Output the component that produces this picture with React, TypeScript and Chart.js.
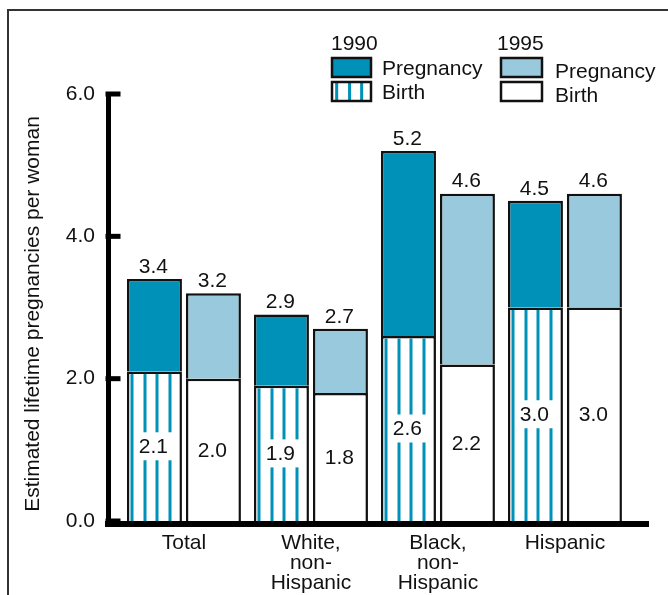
import React, { useEffect, useRef } from 'react';
import { Chart, registerables } from 'chart.js';

Chart.register(...registerables);

// ---- data ----
const categories: string[][] = [
  ['Total'],
  ['White,', 'non-', 'Hispanic'],
  ['Black,', 'non-', 'Hispanic'],
  ['Hispanic'],
];
const pregnancy1990 = [3.4, 2.9, 5.2, 4.5];
const birth1990 = [2.1, 1.9, 2.6, 3.0];
const pregnancy1995 = [3.2, 2.7, 4.6, 4.6];
const birth1995 = [2.0, 1.8, 2.2, 3.0];
const yTicks = [0, 2, 4, 6];
const legendYears = ['1990', '1995'];
const legendLabels = ['Pregnancy', 'Birth'];
const yTitle = 'Estimated lifetime pregnancies per woman';

// ---- styles ----
const TEAL = '#0091B8';
const LIGHT = '#98C9DC';
const INK = '#111111';
const FONT = '"Liberation Sans", Arial, Helvetica, sans-serif';
const FS = 21;
const X_MIN = -0.598;
const X_MAX = 3.654;
const Y_MIN = -0.042;
const STRIPES = [0.09, 0.33, 0.54, 0.78];

const remainder = (tot: number[], b: number[]) => tot.map((t, i) => Math.round((t - b[i]) * 10) / 10);
const pts = (vals: number[]) => vals.map((v, i) => ({ x: i, y: v }));

const overlay = {
  id: 'overlay',
  afterDatasetsDraw(chart: any) {
    const ctx = chart.ctx;
    ctx.save();
    // stripes on 1990 birth bars
    chart.getDatasetMeta(0).data.forEach((el: any) => {
      const p = el.getProps(['x', 'y', 'base', 'width'], true);
      const left = p.x - p.width / 2;
      ctx.fillStyle = TEAL;
      STRIPES.forEach((f) => {
        ctx.fillRect(Math.round(left + f * p.width) - 1.5, p.y + 2.5, 3, p.base - p.y - 2.5);
      });
    });
    ctx.font = `${FS}px ${FONT}`;
    ctx.textAlign = 'center';
    ctx.textBaseline = 'middle';
    // birth labels
    [0, 2].forEach((di) => {
      const vals = di === 0 ? birth1990 : birth1995;
      chart.getDatasetMeta(di).data.forEach((el: any, i: number) => {
        const p = el.getProps(['x', 'y', 'base'], true);
        const cy = (p.y + p.base) / 2;
        const txt = vals[i].toFixed(1);
        const w = ctx.measureText(txt).width + 6;
        ctx.fillStyle = '#fff';
        ctx.fillRect(p.x - w / 2, cy - 14, w, 28);
        ctx.fillStyle = INK;
        ctx.fillText(txt, p.x - 1, cy + 1);
      });
    });
    // totals
    [1, 3].forEach((di) => {
      const vals = di === 1 ? pregnancy1990 : pregnancy1995;
      chart.getDatasetMeta(di).data.forEach((el: any, i: number) => {
        const p = el.getProps(['x', 'y'], true);
        ctx.fillStyle = INK;
        ctx.fillText(vals[i].toFixed(1), p.x - 1, p.y - 12);
      });
    });
    ctx.restore();
  },
  afterDraw(chart: any) {
    const ctx = chart.ctx;
    const ys = chart.scales.y;
    ctx.save();
    // inward tick marks
    ctx.fillStyle = '#000';
    yTicks.forEach((v) => {
      const py = ys.getPixelForValue(v);
      ctx.fillRect(ys.right - 2.5, py - 2.5, 15, 5);
    });
    // y title
    ctx.save();
    ctx.translate(33, 314);
    ctx.rotate(-Math.PI / 2);
    ctx.font = `${FS}px ${FONT}`;
    ctx.fillStyle = INK;
    ctx.textAlign = 'center';
    ctx.textBaseline = 'middle';
    ctx.fillText(yTitle, 0, 0);
    ctx.restore();
    // legend
    ctx.font = `${FS}px ${FONT}`;
    ctx.textAlign = 'left';
    ctx.textBaseline = 'middle';
    const cols = [
      { x: 331, bx: 332, bw: 39, tx: 382, fill: TEAL, striped: true, ty: [69, 93], by: [58, 82] },
      { x: 497, bx: 501, bw: 41, tx: 555, fill: LIGHT, striped: false, ty: [72, 96], by: [58, 82] },
    ];
    cols.forEach((c, k) => {
      ctx.fillStyle = INK;
      ctx.fillText(legendYears[k], c.x, 44);
      // pregnancy box
      ctx.fillStyle = c.fill;
      ctx.fillRect(c.bx, c.by[0], c.bw, 19);
      ctx.lineWidth = 2.5;
      ctx.strokeStyle = INK;
      ctx.strokeRect(c.bx, c.by[0], c.bw, 19);
      // birth box
      ctx.fillStyle = '#fff';
      ctx.fillRect(c.bx, c.by[1], c.bw, 19);
      if (c.striped) {
        ctx.fillStyle = TEAL;
        [0.12, 0.45, 0.76].forEach((f) => ctx.fillRect(c.bx + f * c.bw - 1.5, c.by[1], 3, 19));
      }
      ctx.strokeRect(c.bx, c.by[1], c.bw, 19);
      ctx.fillStyle = INK;
      ctx.fillText(legendLabels[0], c.tx, c.ty[0]);
      ctx.fillText(legendLabels[1], c.tx, c.ty[1]);
    });
    ctx.restore();
  },
};

export default function App() {
  const ref = useRef<HTMLCanvasElement>(null);
  useEffect(() => {
    const canvas = ref.current!;
    const common = {
      borderColor: INK,
      borderWidth: 2.5,
      borderSkipped: 'bottom',
      categoryPercentage: 0.929,
      barPercentage: 0.932,
    };
    const chart = new Chart(canvas, {
      type: 'bar',
      data: {
        datasets: [
          { ...common, label: 'Birth 1990', stack: '1990', data: pts(birth1990), backgroundColor: '#fff' },
          { ...common, label: 'Pregnancy 1990', stack: '1990', data: pts(remainder(pregnancy1990, birth1990)), backgroundColor: TEAL },
          { ...common, label: 'Birth 1995', stack: '1995', data: pts(birth1995), backgroundColor: '#fff' },
          { ...common, label: 'Pregnancy 1995', stack: '1995', data: pts(remainder(pregnancy1995, birth1995)), backgroundColor: LIGHT },
        ] as any,
      },
      options: {
        animation: false,
        responsive: false,
        devicePixelRatio: 1,
        layout: { padding: { top: 94, right: 20, left: 0, bottom: 0 } },
        plugins: { legend: { display: false }, tooltip: { enabled: false } },
        scales: {
          x: {
            type: 'linear',
            min: X_MIN,
            max: X_MAX,
            offset: false,
            z: 1,
            grid: { display: false, drawTicks: false },
            border: { display: true, width: 6, color: '#000' },
            afterBuildTicks: (s: any) => {
              s.ticks = categories.map((_, i) => ({ value: i }));
            },
            afterFit: (s: any) => {
              s.height = 71;
            },
            ticks: {
              autoSkip: false,
              maxRotation: 0,
              minRotation: 0,
              padding: 9,
              color: INK,
              font: { family: FONT, size: FS, lineHeight: 0.952 },
              callback: (v: any) => categories[Math.round(Number(v))] ?? '',
            },
          },
          y: {
            min: Y_MIN,
            max: 6,
            stacked: true,
            z: 1,
            grid: { display: false, drawTicks: false },
            border: { display: true, width: 5, color: '#000' },
            afterFit: (s: any) => {
              s.width = 108;
            },
            afterBuildTicks: (s: any) => {
              s.ticks = yTicks.map((v) => ({ value: v }));
            },
            ticks: {
              padding: 13,
              color: INK,
              font: { family: FONT, size: FS },
              callback: (v: any) => Number(v).toFixed(1),
            },
          },
        },
      } as any,
      plugins: [overlay],
    });
    return () => chart.destroy();
  }, []);
  return (
    <div style={{ position: 'fixed', left: 0, top: 0, width: 668, height: 595, overflow: 'hidden', background: '#fff' }}>
      <div
        style={{
          position: 'absolute',
          left: 7,
          top: 9,
          width: 700,
          height: 700,
          borderLeft: '2px solid #333',
          borderTop: '2px solid #333',
        }}
      />
      <canvas ref={ref} width={668} height={595} style={{ position: 'absolute', left: 0, top: 0, display: 'block' }} />
    </div>
  );
}
